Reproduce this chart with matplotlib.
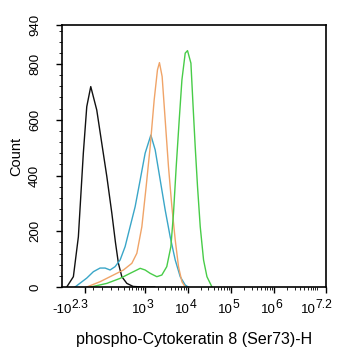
import matplotlib
matplotlib.use("Agg")
import matplotlib.pyplot as plt
from matplotlib.ticker import FixedLocator, NullFormatter
from matplotlib.transforms import offset_copy

plt.rcParams['font.family'] = ['Liberation Sans', 'DejaVu Sans']

# --- Data (fluorescence intensity vs. count) ---
black_x = [-626, -428, -316, -227, -175, -122, -52, 2, 57, 115, 162, 205, 261, 359, 520, 690, 1000, 1700]
black_y = [0, 37, 180, 480, 647, 719, 635, 516, 396, 265, 160, 85, 37, 13, 2, 1, 0, 0]

blue_x = [-388, -175, -90, -16, 38, 94, 157, 232, 323, 436, 583, 772, 1013, 1380, 1742, 2280, 2980,
          3890, 5090, 6650, 8680, 10190]
blue_y = [0, 32, 55, 68, 68, 61, 73, 97, 145, 216, 288, 384, 480, 545, 492, 384, 276,
          180, 97, 37, 7, 0]

orange_x = [-175, -16, 135, 290, 483, 642, 846, 1070, 1330, 1650, 1970, 2190, 2530, 2980,
            3550, 4260, 5090, 6070, 7280, 8680]
orange_y = [0, 19, 43, 61, 85, 121, 216, 360, 503, 671, 779, 805, 755, 599,
            432, 288, 169, 73, 19, 0]

green_x = [-122, 57, 232, 436, 642, 772, 1013, 1330, 1906, 2490, 3240, 4040, 4640, 5370, 6300,
           7280, 8680, 9820, 11770, 13100, 14800, 16750, 19360, 23100, 27700, 36200]
green_y = [0, 13, 31, 49, 61, 67, 61, 49, 37, 43, 73, 145, 264, 432, 599,
           743, 839, 848, 803, 660, 503, 360, 216, 97, 37, 0]

x_ticks = [-200, 1e3, 1e4, 1e5, 1e6, 10 ** 7.2]
x_tick_bases = ['-10', '10', '10', '10', '10', '10']
x_tick_powers = ['2.3', '3', '4', '5', '6', '7.2']
y_ticks = [0, 200, 400, 600, 800, 940]

fig = plt.figure(figsize=(3.42, 3.5), dpi=100)
ax = fig.add_axes([0.1813, 0.18, 0.7717, 0.7486])

ax.set_xscale('asinh', linear_width=200)
ax.plot(black_x, black_y, color='#111111', lw=1.0)
ax.plot(blue_x, blue_y, color='#3aa6c8', lw=1.0)
ax.plot(orange_x, orange_y, color='#f0a468', lw=1.0)
ax.plot(green_x, green_y, color='#48cc48', lw=1.0)

ax.set_xlim(-814, 10 ** 7.2)
ax.set_ylim(0, 940)

# x ticks: biexponential style
minor_x = [-100, 0, 100, 200, 300, 400, 500, 600, 700, 800, 900]
for k in range(3, 7):
    minor_x += [m * 10 ** k for m in range(2, 10)]
minor_x += [1e7]
ax.xaxis.set_major_locator(FixedLocator(x_ticks))
ax.xaxis.set_major_formatter(NullFormatter())
ax.xaxis.set_minor_locator(FixedLocator(minor_x))

# tick labels with near full-size exponents
shifts = [-13, 2, 2, 2, 2, -10]  # pixels, where "10" ends relative to tick
xt = ax.get_xaxis_transform()
for v, base, pw, dx in zip(x_ticks, x_tick_bases, x_tick_powers, shifts):
    tb = offset_copy(xt, fig=fig, x=dx, y=-26, units='dots')
    tp = offset_copy(xt, fig=fig, x=dx - 0.5, y=-21, units='dots')
    ax.text(v, 0, base, transform=tb, ha='right', va='baseline', fontsize=9.5)
    ax.text(v, 0, pw, transform=tp, ha='left', va='baseline', fontsize=8.8)

ax.yaxis.set_major_locator(FixedLocator(y_ticks))
ax.yaxis.set_minor_locator(FixedLocator(list(range(40, 940, 40))))
for lab in ax.get_yticklabels():
    lab.set_rotation(90)
    lab.set_va('center')

ax.tick_params(which='major', direction='out', length=4, width=1)
ax.tick_params(axis='y', which='major', labelsize=9.5, pad=11)
ax.tick_params(which='minor', direction='out', length=2, width=0.6)
for s in ax.spines.values():
    s.set_linewidth(1.2)

ax.set_ylabel('Count', fontsize=10.5)
ax.yaxis.set_label_coords(-0.148, 0.5)
ax.set_xlabel('phospho-Cytokeratin 8 (Ser73)-H', fontsize=11.5)
ax.xaxis.set_label_coords(0.5, -0.17)

fig.savefig('out.png', dpi=100)
